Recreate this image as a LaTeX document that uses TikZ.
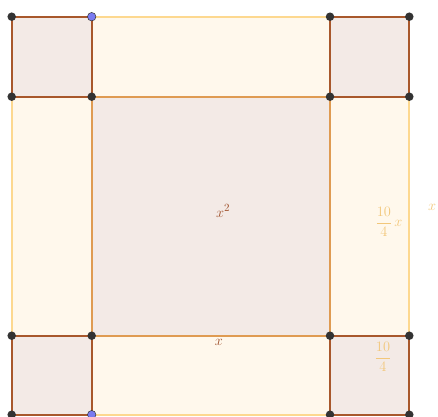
\documentclass[tikz,border=0pt]{standalone}
\usepackage{amsmath}
\definecolor{cornerfill}{HTML}{F3EAE6}
\definecolor{cornerline}{HTML}{A8582C}
\definecolor{centerline}{HTML}{DF9B52}
\definecolor{sidefill}{HTML}{FFF8EC}
\definecolor{sideline}{HTML}{FDD88F}
\definecolor{ptdark}{HTML}{333333}
\definecolor{ptblue}{HTML}{7B7BF0}
\definecolor{labbrown}{HTML}{A0522D}
\definecolor{laborange}{HTML}{F2C77A}
\begin{document}
\begin{tikzpicture}[x=1pt,y=-1pt,
  sidebox/.style={fill=sidefill,draw=sideline,line width=1.8pt},
  centerbox/.style={fill=cornerfill,draw=centerline,line width=1.8pt},
  cornerbox/.style={fill=cornerfill,draw=cornerline,line width=1.8pt},
  darkpt/.style={circle,fill=ptdark,inner sep=0pt,minimum size=8.5pt},
  bluept/.style={circle,fill=ptblue,draw=ptdark,line width=0.5pt,inner sep=0pt,minimum size=8.5pt},
  brownlab/.style={text=labbrown,font=\fontsize{15}{17}\selectfont,inner sep=0pt},
  orangelab/.style={text=laborange,font=\fontsize{15}{17}\selectfont,inner sep=0pt}]
\useasboundingbox (0,0) rectangle (438,416);
\fill[white] (0,0) rectangle (438,416);
% grid coordinates
\foreach \i/\xx in {1/11.7,2/91.7,3/330,4/409.3}{
  \foreach \j/\yy in {1/16.7,2/96.7,3/335.7,4/414.7}{
    \coordinate (p\i\j) at (\xx,\yy);
  }
}
% side rectangles
\draw[sidebox] (p21) rectangle (p32);
\draw[sidebox] (p23) rectangle (p34);
\draw[sidebox] (p12) rectangle (p23);
\draw[sidebox] (p32) rectangle (p43);
% center square
\draw[centerbox] (p22) rectangle (p33);
% corner squares
\draw[cornerbox] (p11) rectangle (p22);
\draw[cornerbox] (p31) rectangle (p42);
\draw[cornerbox] (p13) rectangle (p24);
\draw[cornerbox] (p33) rectangle (p44);
% points
\foreach \n in {11,12,13,14,22,23,31,32,33,34,41,42,43,44}{
  \node[darkpt] (d\n) at (p\n) {};
}
\node[bluept] (b21) at (p21) {};
\node[bluept] (b24) at (p24) {};
% labels
\node[brownlab] (lx2) at (223,211) {$x^2$};
\node[brownlab] (lx) at (219,342) {$x$};
\node[orangelab] (lside) at (389,222) {$\dfrac{10}{4}\,x$};
\node[orangelab] (lxr) at (432,207) {$x$};
\node[orangelab] (lcorner) at (383,357) {$\dfrac{10}{4}$};
\end{tikzpicture}
\end{document}
